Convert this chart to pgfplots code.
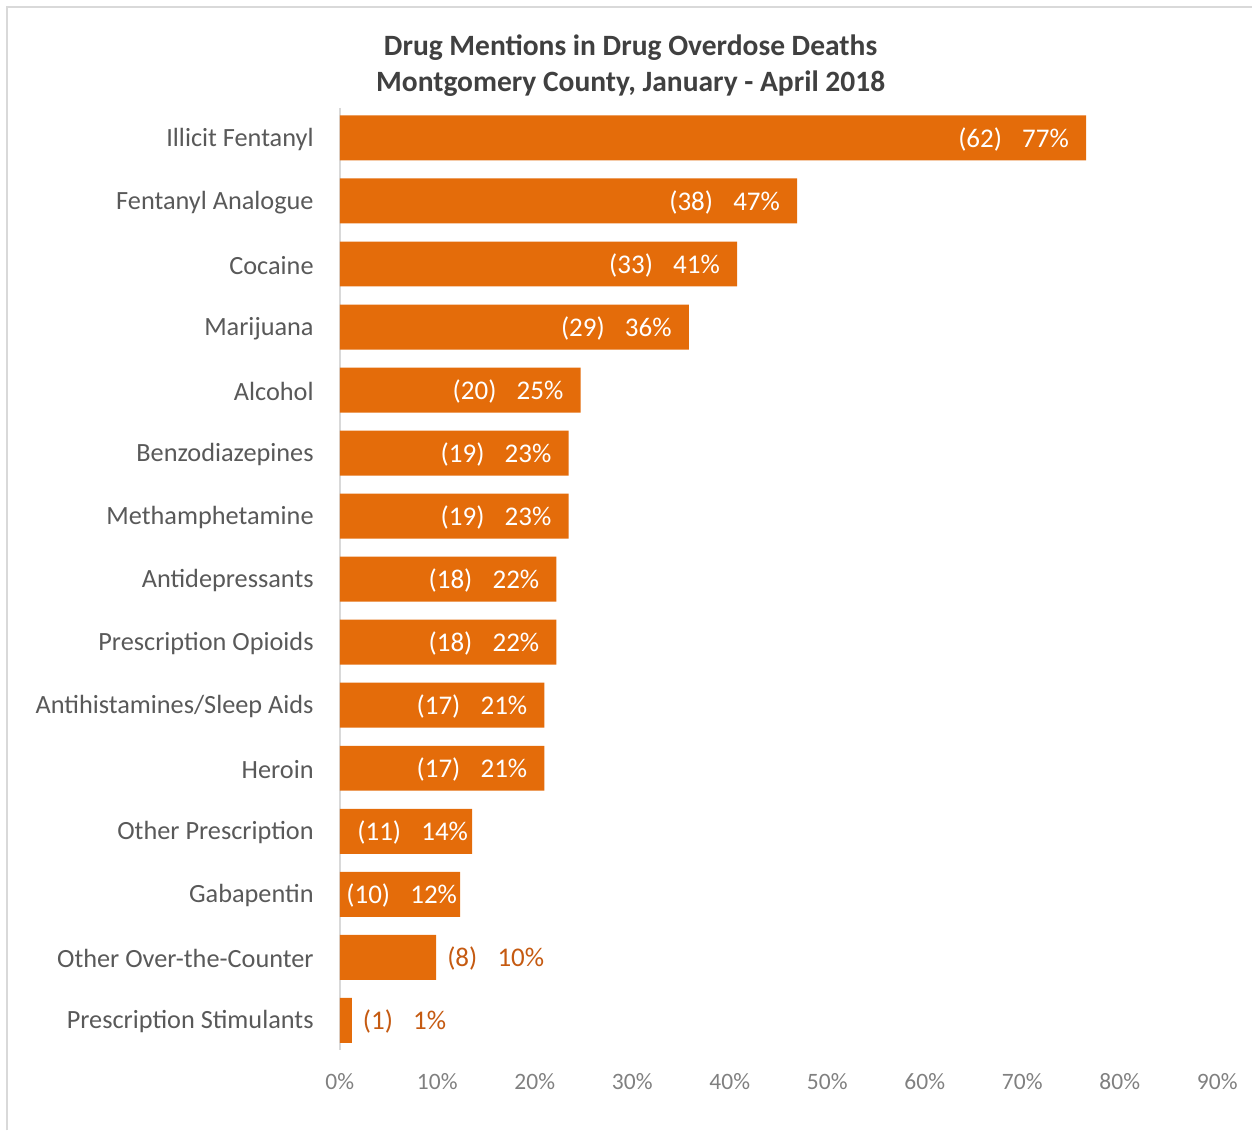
\documentclass[border=0pt]{standalone}
\usepackage{pgfplots}
\pgfplotsset{compat=1.18}
\usepackage{pgfplotstable}
\usepackage{fontspec}
\setmainfont{Carlito}
\definecolor{barorange}{HTML}{E46C0A}
\definecolor{lblorange}{HTML}{C55A11}
\definecolor{txtgray}{HTML}{595959}
\definecolor{tickgray}{HTML}{808080}
\definecolor{titlegray}{HTML}{404040}
\definecolor{framegray}{HTML}{D9D9D9}

\pgfplotstableread{
y x n p sh
0 76.54 62 77 17
1 46.91 38 47 17
2 40.74 33 41 17
3 35.80 29 36 17
4 24.69 20 25 17
5 23.46 19 23 17
6 23.46 19 23 17
7 22.22 18 22 17
8 22.22 18 22 17
9 20.99 17 21 17
10 20.99 17 21 17
11 13.58 11 14 4
12 12.35 10 12 3
}\inside
\pgfplotstableread{
y x n p sh
13 9.88 8 10 11
14 1.23 1 1 11
}\outside

\begin{document}
\begin{tikzpicture}[x=1pt,y=1pt]
\path (0,0) rectangle (1253,1131);
\draw[framegray, line width=1.5pt] (7,0) -- (7,1124) -- (1253,1124);
\node[font=\fontsize{29.5}{36}\selectfont\bfseries, text=titlegray, align=center] at (631,1065)
  {Drug Mentions in Drug Overdose Deaths\\Montgomery County, January - April 2018};
\begin{axis}[
  at={(340pt,80pt)}, anchor=south west,
  scale only axis, width=878pt, height=943pt,
  xmin=0, xmax=90, ymin=-0.476, ymax=14.476,
  y dir=reverse,
  axis x line*=bottom, axis y line*=left,
  x axis line style={draw=none},
  y axis line style={draw=framegray, line width=2pt, -},
  xtick={0,10,...,90},
  xticklabel={\pgfmathprintnumber{\tick}\%},
  xticklabel style={anchor=center, yshift=-31pt, text=tickgray, font=\fontsize{23.5}{28}\selectfont},
  /pgf/number format/assume math mode=true,
  ytick={0,...,14},
  yticklabels={Illicit Fentanyl, Fentanyl Analogue, Cocaine, Marijuana, Alcohol, Benzodiazepines, Methamphetamine, Antidepressants, Prescription Opioids, Antihistamines/Sleep Aids, Heroin, Other Prescription, Gabapentin, Other Over-the-Counter, Prescription Stimulants},
  yticklabel style={anchor=east, inner sep=0pt, xshift=-26pt, yshift=-1.5pt, text=txtgray, font=\fontsize{26.3}{30}\selectfont},
  major tick length=0pt,
  clip=false,
]
\addplot[xbar, bar shift=0pt, bar width=45pt, fill=barorange, draw=none,
  visualization depends on={\thisrow{n}\as\cnt},
  visualization depends on={\thisrow{p}\as\pct},
  visualization depends on={\thisrow{sh}\as\sh},
  nodes near coords={(\pgfmathprintnumber[fixed,precision=0]{\cnt})\hspace{0.75em}\pgfmathprintnumber[fixed,precision=0]{\pct}\%},
  every node near coord/.append style={anchor=east, inner sep=0pt, xshift=-\sh pt, yshift=-1.5pt, text=white, font=\fontsize{27}{32}\selectfont},
] table[x=x, y=y] {\inside};
\addplot[xbar, bar shift=0pt, bar width=45pt, fill=barorange, draw=none,
  visualization depends on={\thisrow{n}\as\cnt},
  visualization depends on={\thisrow{p}\as\pct},
  visualization depends on={\thisrow{sh}\as\sh},
  nodes near coords={(\pgfmathprintnumber[fixed,precision=0]{\cnt})\hspace{0.75em}\pgfmathprintnumber[fixed,precision=0]{\pct}\%},
  every node near coord/.append style={anchor=west, inner sep=0pt, xshift=\sh pt, yshift=-1.5pt, text=lblorange, font=\fontsize{27}{32}\selectfont},
] table[x=x, y=y] {\outside};
\end{axis}
\end{tikzpicture}
\end{document}
